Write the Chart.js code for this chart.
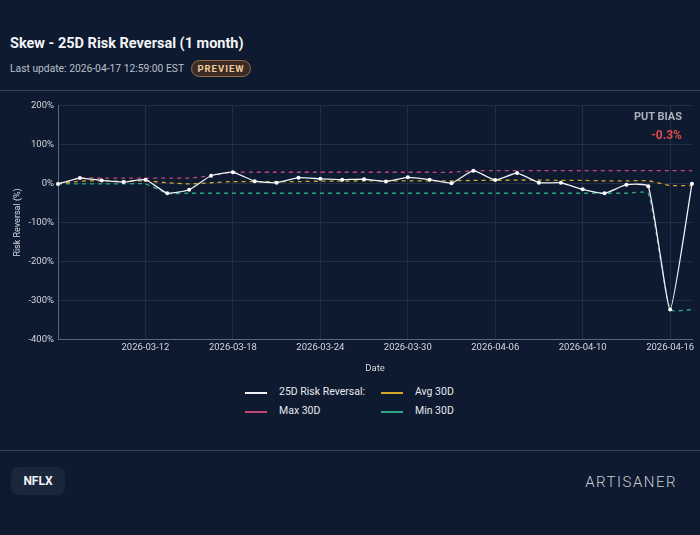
<!DOCTYPE html>
<html>
<head>
<meta charset="utf-8">
<script src="https://cdn.jsdelivr.net/npm/chart.js@4.4.1/dist/chart.umd.min.js"></script>
<style>
  body { margin: 0; background: #0d1a2f; font-family: Roboto, "Noto Sans", sans-serif; }
  #wrap { position: relative; width: 700px; height: 535px; overflow: hidden; background: #0d1a2f; }
  .title { position: absolute; left: 10px; top: 35px; color: #f2f4f7; font-size: 14.5px; font-weight: 700; }
  .sub { position: absolute; left: 10px; top: 62px; color: #b9c0cb; font-size: 10.3px; }
  .badge { position: absolute; left: 191px; top: 60px; width: 58px; height: 15px; border: 1px solid #9a6a48; border-radius: 9px;
           background: #3a2b24; color: #f1c99c; font-size: 9.5px; font-weight: 700; letter-spacing: 1px; text-align: center; line-height: 15px; }
  .sep { position: absolute; left: 0; width: 700px; height: 1px; background: #3a4658; }
  .bias { position: absolute; right: 18px; text-align: right; font-weight: 700; }
  #chart { position: absolute; left: 0; top: 96px; }
  .legend { position: absolute; left: 245px; top: 385px; font-size: 10.5px; color: #e6e9ee; }
  .item { position: absolute; white-space: nowrap; height: 14px; line-height: 14px; }
  .sw { position: absolute; left: 0; top: 7px; width: 22px; height: 2px; }
  .item span.t { position: absolute; left: 34px; top: 0; }
  .nflx { position: absolute; left: 11px; top: 467px; width: 54px; height: 28px; border-radius: 8px; background: #1a2639;
          color: #f2f4f7; font-weight: 700; font-size: 12px; text-align: center; line-height: 28px; }
  .brand { position: absolute; right: 23px; top: 473px; color: #c9cdd4; font-size: 15px; letter-spacing: 1.5px; font-weight: 300; }
</style>
</head>
<body>
<div id="wrap">
  <div class="title">Skew - 25D Risk Reversal (1 month)</div>
  <div class="sub">Last update: 2026-04-17 12:59:00 EST</div>
  <div class="badge">PREVIEW</div>
  <div class="sep" style="top:90px"></div>
  <canvas id="chart" width="700" height="282"></canvas>
  <div class="bias" style="top:110px;color:#a9b0bb;font-size:11px;">PUT BIAS</div>
  <div class="bias" style="top:128px;color:#e04a4a;font-size:12px;">-0.3%</div>
  <div class="legend">
    <div class="item" style="left:0;top:0"><div class="sw" style="background:#eef1f5"></div><span class="t">25D Risk Reversal:</span></div>
    <div class="item" style="left:136px;top:0"><div class="sw" style="background:#d4a62a"></div><span class="t">Avg 30D</span></div>
    <div class="item" style="left:0;top:19px"><div class="sw" style="background:#c2457a"></div><span class="t">Max 30D</span></div>
    <div class="item" style="left:136px;top:19px"><div class="sw" style="background:#2ea882"></div><span class="t">Min 30D</span></div>
  </div>
  <div class="sep" style="top:450px"></div>
  <div class="nflx">NFLX</div>
  <div class="brand">ARTISANER</div>
</div>

<script>
// fechas de trading (eje x)
const dates = [
  '2026-03-06', '2026-03-09', '2026-03-10', '2026-03-11', '2026-03-12', '2026-03-13',
  '2026-03-16', '2026-03-17', '2026-03-18', '2026-03-19', '2026-03-20', '2026-03-23',
  '2026-03-24', '2026-03-25', '2026-03-26', '2026-03-27', '2026-03-30', '2026-03-31',
  '2026-04-01', '2026-04-02', '2026-04-06', '2026-04-07', '2026-04-08', '2026-04-09',
  '2026-04-10', '2026-04-13', '2026-04-14', '2026-04-15', '2026-04-16', '2026-04-17'
];
const tickDates = ['2026-03-12', '2026-03-18', '2026-03-24', '2026-03-30', '2026-04-06', '2026-04-10', '2026-04-16'];

const riskReversal = [-1, 14, 8, 4, 10, -25, -16, 20, 29, 6, 2, 15, 12, 10, 11, 5, 16, 10, 1, 33, 9, 27, 2, 2, -15, -25, -3, -7, -324, -0.3];
const avg30 = [-1, 6, 7, 6, 7, 2, -1, 2, 5, 5, 5, 5, 6, 6, 7, 7, 7, 7, 7, 8, 8, 9, 9, 8, 8, 7, 7, 7, -5, -5];
const max30 = [-1, 14, 14, 14, 14, 14, 14, 20, 29, 29, 29, 29, 29, 29, 29, 29, 29, 29, 29, 33, 33, 33, 33, 33, 33, 33, 33, 33, 33, 33];
const min30 = [-1, -1, -1, -1, -1, -25, -25, -25, -25, -25, -25, -25, -25, -25, -25, -25, -25, -25, -25, -25, -25, -25, -25, -25, -25, -25, -25, -25, -324, -324];

const yTicks = { min: -400, max: 200, step: 100 };

const gridColor = 'rgba(120,135,160,0.18)';
const tickColor = '#d3d8df';

function dashed(label, data, color) {
  return {
    label, data,
    borderColor: color,
    borderWidth: 1.3,
    borderDash: [4, 4],
    pointRadius: 0,
    tension: 0.15,
    fill: false
  };
}

const ctx = document.getElementById('chart').getContext('2d');
new Chart(ctx, {
  type: 'line',
  data: {
    labels: dates,
    datasets: [
      {
        label: '25D Risk Reversal:',
        data: riskReversal,
        borderColor: '#eef1f5',
        borderWidth: 1.3,
        pointRadius: 2,
        pointBackgroundColor: '#ffffff',
        pointBorderWidth: 0,
        tension: 0.15,
        fill: false
      },
      dashed('Avg 30D', avg30, '#d4a62a'),
      dashed('Max 30D', max30, '#c2457a'),
      dashed('Min 30D', min30, '#2ea882')
    ]
  },
  options: {
    responsive: false,
    animation: false,
    layout: { padding: { left: 8, right: 8, top: 4 } },
    plugins: {
      legend: { display: false },
      tooltip: { enabled: false }
    },
    scales: {
      x: {
        ticks: {
          color: tickColor,
          font: { family: 'Roboto', size: 9.5 },
          autoSkip: false,
          maxRotation: 0,
          callback: function (value, index) {
            const d = dates[index];
            return tickDates.includes(d) ? d : null;
          }
        },
        grid: { color: gridColor, drawTicks: false },
        border: { color: '#5b6779' },
        title: { display: true, text: 'Date', color: tickColor, font: { family: 'Roboto', size: 9.5 }, padding: { top: 6 } }
      },
      y: {
        min: yTicks.min,
        max: yTicks.max,
        ticks: {
          stepSize: yTicks.step,
          color: tickColor,
          font: { family: 'Roboto', size: 9.5 },
          padding: 4,
          callback: (v) => v + '%'
        },
        grid: { color: gridColor, drawTicks: false },
        border: { color: '#5b6779' },
        title: { display: true, text: 'Risk Reversal (%)', color: tickColor, font: { family: 'Roboto', size: 9 } },
        afterFit: (scale) => { scale.width = 50; }
      }
    }
  }
});
</script>
</body>
</html>
